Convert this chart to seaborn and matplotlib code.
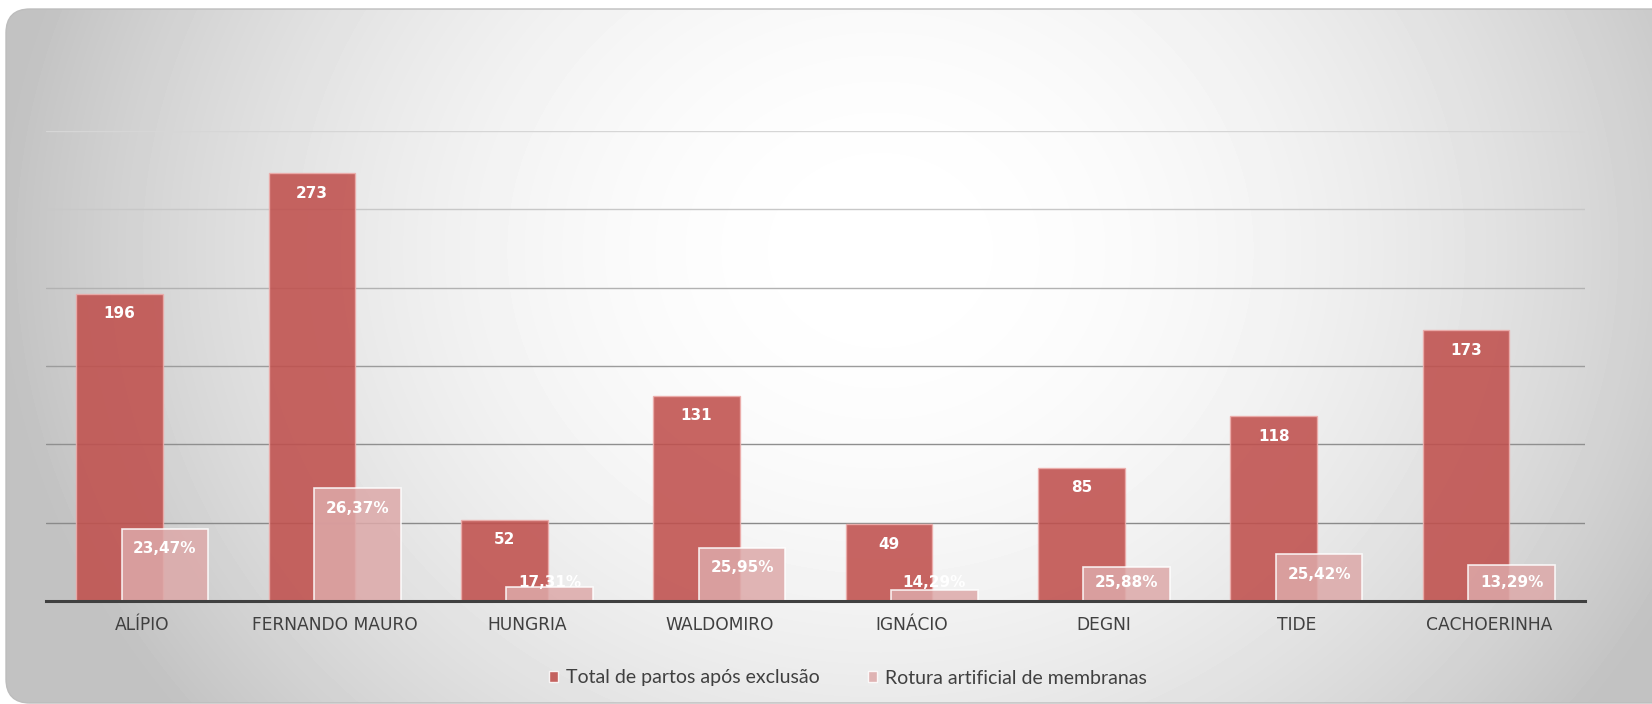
import numpy as np
import matplotlib.pyplot as plt
import seaborn as sns
from matplotlib.patches import FancyBboxPatch, Patch

# Dados
postos = ['ALÍPIO', 'FERNANDO MAURO', 'HUNGRIA', 'WALDOMIRO', 'IGNÁCIO', 'DEGNI', 'TIDE', 'CACHOERINHA']
total_partos = [196, 273, 52, 131, 49, 85, 118, 173]
rotura = [46, 72, 9, 34, 7, 22, 30, 23]
rotura_pct = ['23,47%', '26,37%', '17,31%', '25,95%', '14,29%', '25,88%', '25,42%', '13,29%']
serie_nomes = ['Total de partos após exclusão', 'Rotura artificial de membranas']

sns.set_style('white')
plt.rcParams['font.family'] = ['DejaVu Sans']

W, H = 1652, 704
fig = plt.figure(figsize=(W / 100, H / 100), dpi=100, facecolor='white')

# fundo com gradiente radial e cantos arredondados
bg = fig.add_axes([0, 0, 1, 1], zorder=-5)
bg.set_xlim(0, W)
bg.set_ylim(H, 0)
bg.axis('off')
yy, xx = np.mgrid[0:H, 0:W]
d = np.sqrt(((xx - 880) / 900.0) ** 2 + ((yy - 250) / 780.0) ** 2)
grad = np.clip(1 - 0.25 * d ** 2, 0.76, 1.0)
img = bg.imshow(grad, cmap='gray', vmin=0, vmax=1, extent=(0, W, H, 0), aspect='auto')
caixa = FancyBboxPatch((6, 9), 1700, 694, boxstyle='round,pad=0,rounding_size=24',
                       facecolor='none', edgecolor='#bdbdbd', lw=1, transform=bg.transData)
bg.add_patch(caixa)
img.set_clip_path(caixa)

# eixo principal
ax = fig.add_axes([46 / W, 103 / H, (1585 - 46) / W, 470 / H])
ax.set_facecolor('none')

desloc = 0.118
sns.barplot(x=postos, y=total_partos, color='#C0504D', saturation=1, width=0.45,
            alpha=0.88, edgecolor=(0.93, 0.68, 0.67, 0.6), linewidth=1, ax=ax, zorder=3)
for p in ax.patches[:8]:
    p.set_x(p.get_x() - desloc)
sns.barplot(x=postos, y=rotura, color='#DDA9A9', saturation=1, width=0.45,
            alpha=0.85, edgecolor=(1, 1, 1, 0.25), linewidth=1.2, ax=ax, zorder=4)
for p in ax.patches[8:]:
    p.set_x(p.get_x() + desloc)

for i, v in enumerate(total_partos):
    ax.text(i - desloc, v - 12.8, str(v), ha='center', va='center', color='white',
            fontsize=11, fontweight='bold', zorder=6)
for i, v in enumerate(rotura):
    ax.text(i + desloc, max(v - 12.8, 11.5), rotura_pct[i], ha='center', va='center',
            color='white', fontsize=11, fontweight='bold', zorder=6)

ax.set_ylim(0, 300)
ax.set_xlim(-0.5, 7.5)
ax.set_yticks([0, 50, 100, 150, 200, 250, 300])
ax.set_yticklabels([])
ax.set_xlabel('')
ax.set_ylabel('')
ax.tick_params(axis='both', length=0)
ax.tick_params(axis='x', pad=11, labelsize=12.3, labelcolor='#404040')
ax.yaxis.grid(True, linewidth=1)
ax.set_axisbelow(True)
cores_grade = ['#404040', '#8a8a8a', '#8f8f8f', '#9c9c9c', '#b2b2b2', '#c8c8c8', '#d6d6d6']
for linha, c in zip(ax.get_ygridlines(), cores_grade):
    linha.set_color(c)
for lado in ['top', 'right', 'left']:
    ax.spines[lado].set_visible(False)
ax.spines['bottom'].set_color('#404040')
ax.spines['bottom'].set_linewidth(2.2)
ax.spines['bottom'].set_zorder(7)

handles = [Patch(facecolor='#C0504D', alpha=0.88), Patch(facecolor='#DDA9A9', alpha=0.85)]
leg = fig.legend(handles, serie_nomes, loc='center', bbox_to_anchor=(848 / W, 26 / H),
                 ncol=2, frameon=False, handlelength=0.47, handleheight=0.47,
                 handletextpad=0.4, columnspacing=2.5,
                 prop={'family': 'Lato', 'size': 14})
for t in leg.get_texts():
    t.set_color('#404040')

fig.savefig('out.png', dpi=100, facecolor='white')
